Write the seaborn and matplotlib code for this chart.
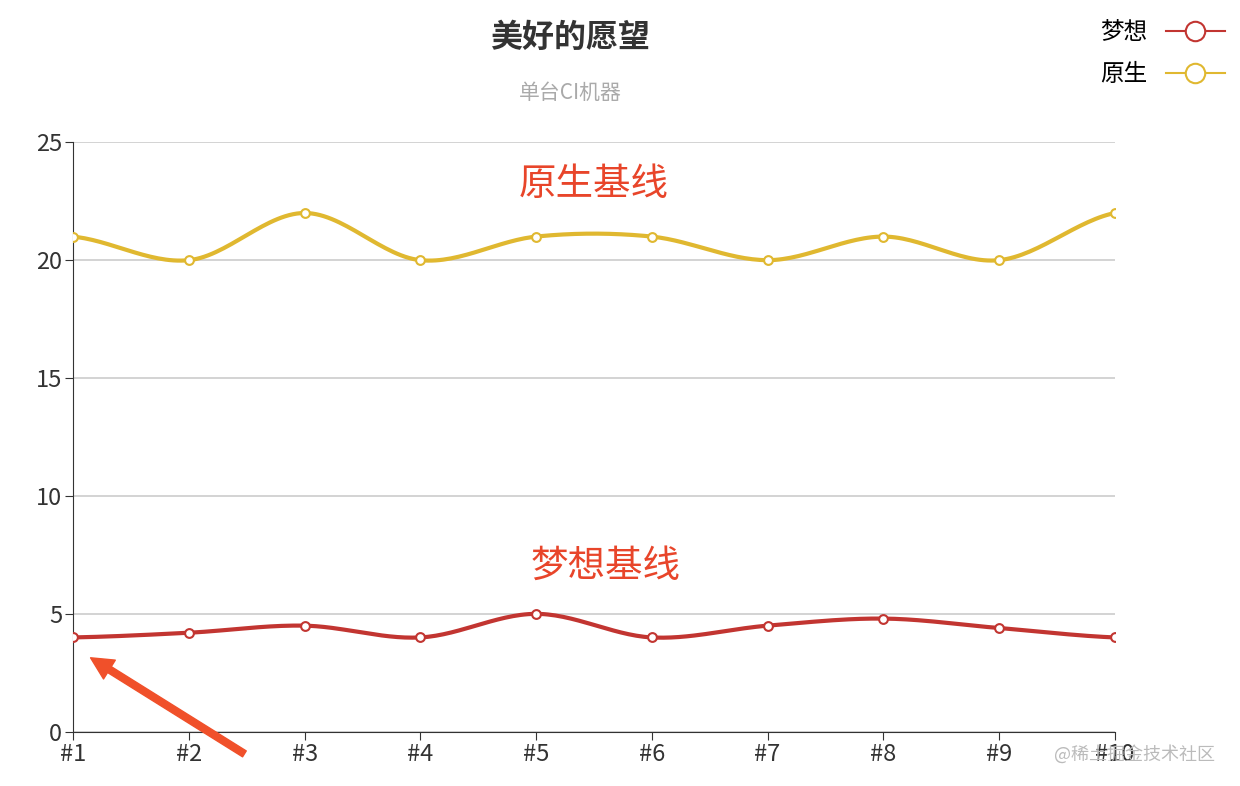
import numpy as np
import pandas as pd
import seaborn as sns
import matplotlib
matplotlib.use("Agg")
import matplotlib.pyplot as plt
from matplotlib.lines import Line2D

plt.rcParams["font.family"] = ["Noto Sans CJK SC", "DejaVu Sans"]

categories = ["#1", "#2", "#3", "#4", "#5", "#6", "#7", "#8", "#9", "#10"]
dream = [4, 4.2, 4.5, 4, 5, 4, 4.5, 4.8, 4.4, 4]
native = [21, 20, 22, 20, 21, 21, 20, 21, 20, 22]
yticks = [0, 5, 10, 15, 20, 25]

RED = "#c23531"
GOLD = "#e0b830"

def smooth(y, n=30, t=0.5):
    y = np.asarray(y, float)
    xs, ys = [], []
    p = np.concatenate([[y[0]], y, [y[-1]]])
    for i in range(len(y) - 1):
        p0, p1, p2, p3 = p[i], p[i + 1], p[i + 2], p[i + 3]
        m1 = t * (p2 - p0); m2 = t * (p3 - p1)
        s = np.linspace(0, 1, n, endpoint=False)
        h00 = 2*s**3 - 3*s**2 + 1; h10 = s**3 - 2*s**2 + s
        h01 = -2*s**3 + 3*s**2; h11 = s**3 - s**2
        xs.extend(i + s); ys.extend(h00*p1 + h10*m1 + h01*p2 + h11*m2)
    xs.append(len(y) - 1); ys.append(y[-1])
    return np.array(xs), np.array(ys)

fig = plt.figure(figsize=(12.4, 7.86), dpi=100)
ax = fig.add_axes([0.059, 0.069, 0.84, 0.75])

for vals, col in [(native, GOLD), (dream, RED)]:
    sx, sy = smooth(vals)
    sns.lineplot(x=sx, y=sy, ax=ax, color=col, lw=3, zorder=3)
    sns.scatterplot(x=np.arange(len(vals)), y=vals, ax=ax, s=40, color="white",
                    edgecolor=col, linewidth=1.5, zorder=4)

ax.set_xlim(0, 9); ax.set_ylim(0, 25)
ax.set_xticks(range(10)); ax.set_xticklabels(categories, fontsize=17)
ax.set_yticks(yticks); ax.set_yticklabels([str(v) for v in yticks], fontsize=17)
ax.grid(axis="y", color="#cccccc", lw=1.2); ax.set_axisbelow(True)
for s in ["top", "right"]:
    ax.spines[s].set_visible(False)
ax.spines["left"].set_color("#333"); ax.spines["bottom"].set_color("#333")
ax.tick_params(length=6, color="#333", colors="#333", pad=2)

fig.text(0.46, 0.952, "美好的愿望", ha="center", va="center", fontsize=23, fontweight="bold", color="#333")
fig.text(0.46, 0.882, "单台CI机器", ha="center", va="center", fontsize=15, color="#aaa")
ax.text(4.5, 23.2, "原生基线", ha="center", va="center", fontsize=27, color="#e8452a")
ax.text(4.6, 7.0, "梦想基线", ha="center", va="center", fontsize=27, color="#e8452a")

handles = [Line2D([], [], color=RED, lw=1.5, marker="o", ms=14, mfc="white", mec=RED, mew=1.5),
           Line2D([], [], color=GOLD, lw=1.5, marker="o", ms=14, mfc="white", mec=GOLD, mew=1.5)]
fig.legend(handles, ["梦想", "原生"], loc="upper right", bbox_to_anchor=(1.005, 1.0),
           frameon=False, fontsize=17, markerfirst=False, handlelength=2.5, labelspacing=0.8)

ax.annotate("", xy=(0.13, 3.2), xytext=(1.5, -1.0), xycoords="data", textcoords="data",
            arrowprops=dict(arrowstyle="simple,head_width=1.6,head_length=1.6,tail_width=0.5",
                            color="#f0502a"), annotation_clip=False)
fig.text(0.98, 0.04, "@稀土掘金技术社区", ha="right", va="center", fontsize=13, color="#bbb")

fig.savefig("out.png", dpi=100)
